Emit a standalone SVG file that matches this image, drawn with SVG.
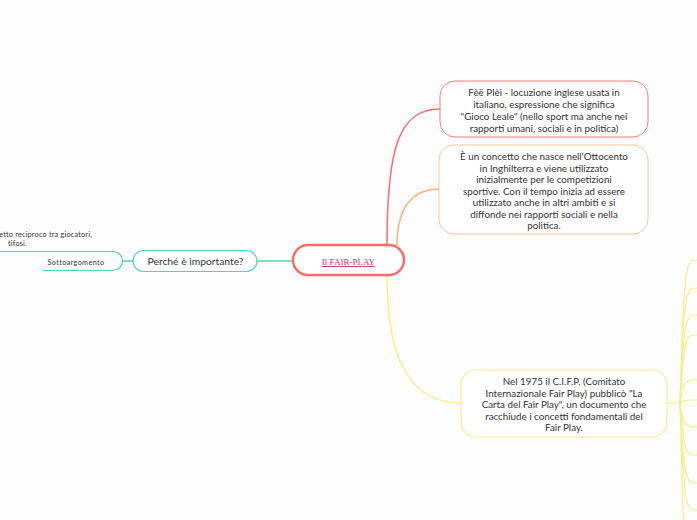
<svg xmlns="http://www.w3.org/2000/svg" width="697" height="520" viewBox="0 0 697 520">
<style>
.t{font-family:Lato,"Open Sans","DejaVu Sans",sans-serif;fill:#333;text-anchor:middle}
.n{font-size:9.8px}
.c{fill:none;stroke-width:1.5}
.y{stroke:#f8ee8c;fill:none;stroke-width:1.2}
</style>
<rect width="697" height="520" fill="#fdfdfd"/>
<g id="connectors">
<path class="c" stroke="#ff6b6b" d="M387,245 C387,150 398,109 440,109"/>
<path class="c" stroke="#ffb37e" d="M397,246 C397,212 408,189 440,189"/>
<path class="c" stroke="#f8ee8c" d="M387,276 C387,360 410,403 461,403"/>
<path class="c" stroke="#53d6a6" d="M257,261 H293"/>
<path class="c" stroke="#53d6a6" d="M123,261 H133"/>
<path class="y" d="M667,403 H680"/>
<path class="y" d="M680,403 C684,260 686,260 697,260"/>
<path class="y" d="M680,403 C684,288 686,288 697,288"/>
<path class="y" d="M680,403 C684,315 686,315 697,315"/>
<path class="y" d="M680,403 C684,335 686,335 697,335"/>
<path class="y" d="M680,403 C683,380 686,380 697,380"/>
<path class="y" d="M680,403 C683,400 686,400 697,400"/>
<path class="y" d="M680,403 C683,427 686,427 697,427"/>
<path class="y" d="M680,403 C684,455 686,455 697,455"/>
<path class="y" d="M680,403 C684,483 686,483 697,483"/>
<path class="y" d="M680,403 C684,510 686,510 697,510"/>
<path class="y" d="M680,403 C682,480 683,520 684,530"/>
</g>
<g id="central">
<rect x="293" y="245" width="111" height="30" rx="15" fill="#fff" stroke="#ff6b6b" stroke-width="2.5"/>
<text x="348.5" y="265" font-family="'Liberation Serif',serif" font-size="9" fill="#e02a5e" text-anchor="middle" text-decoration="underline">Il FAIR-PLAY</text>
</g>
<g id="node-fair">
<rect x="440" y="81" width="208" height="56" rx="15" fill="#fff" stroke="#ff7b7b" stroke-width="1"/>
<text class="t n" x="544"><tspan x="544" y="96">Fèë Plèi - locuzione inglese usata in</tspan><tspan x="544" y="108">italiano, espressione che significa</tspan><tspan x="544" y="120">"Gioco Leale" (nello sport ma anche nei</tspan><tspan x="544" y="132">rapporti umani, sociali e in politica)</tspan></text>
</g>
<g id="node-concetto">
<rect x="439" y="145" width="209" height="89" rx="15" fill="#fff" stroke="#ffc49c" stroke-width="1"/>
<text class="t n"><tspan x="544" y="160">È un concetto che nasce nell'Ottocento</tspan><tspan x="544" y="171.5">in Inghilterra e viene utilizzato</tspan><tspan x="544" y="183">inizialmente per le competizioni</tspan><tspan x="544" y="194.5">sportive. Con il tempo inizia ad essere</tspan><tspan x="544" y="206">utilizzato anche in altri ambiti e si</tspan><tspan x="544" y="217.5">diffonde nei rapporti sociali e nella</tspan><tspan x="544" y="229">politica.</tspan></text>
</g>
<g id="node-cifp">
<rect x="461" y="370" width="206" height="67" rx="15" fill="#fff" stroke="#f8ee8c" stroke-width="1.2"/>
<text class="t n"><tspan x="564" y="385">Nel 1975 il C.I.F.P. (Comitato</tspan><tspan x="564" y="396.5">Internazionale Fair Play) pubblicò "La</tspan><tspan x="564" y="408">Carta del Fair Play", un documento che</tspan><tspan x="564" y="419.5">racchiude i concetti fondamentali del</tspan><tspan x="564" y="431">Fair Play.</tspan></text>
</g>
<g id="node-perche">
<rect x="133" y="250.5" width="124" height="21" rx="10.5" fill="#fff" stroke="#53d6a6" stroke-width="1.2"/>
<text class="t" x="195.5" y="264.5" font-size="10.3">Perché è importante?</text>
</g>
<g id="node-sotto">
<path d="M0,251.5 H113 A9.5,9.5 0 0 1 113,270.5 H43" fill="none" stroke="#53d6a6" stroke-width="1.2"/>
<text class="t" x="76" y="265" font-size="7.2" letter-spacing="0.4">Sottoargomento</text>
</g>
<g id="node-rispetto">
<text class="t" style="text-anchor:end" font-size="7.3" letter-spacing="0.2"><tspan x="92" y="237">etto reciproco tra giocatori,</tspan><tspan x="27" y="245.5">tifosi.</tspan></text>
</g>
</svg>
